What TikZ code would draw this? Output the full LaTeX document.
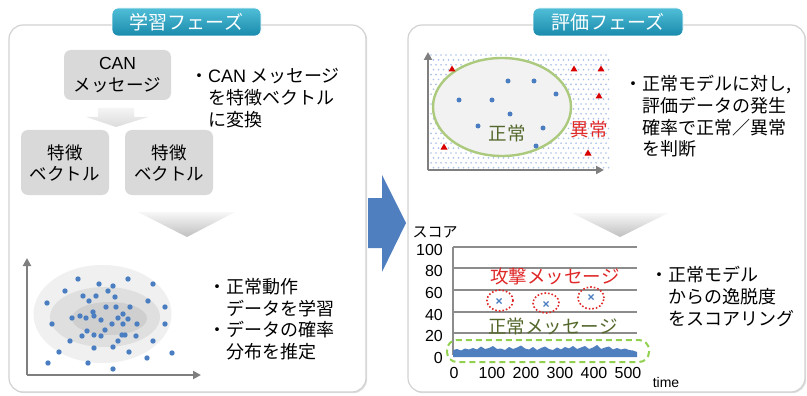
\documentclass[tikz,border=0pt]{standalone}
\usepackage{fontspec}
\setmainfont{Noto Sans CJK JP}
\newfontfamily\lat{Liberation Sans}
\usetikzlibrary{arrows.meta,shadows}
\definecolor{ptblue}{RGB}{74,126,193}
\definecolor{arrblue}{RGB}{79,127,191}
\definecolor{tabtop}{RGB}{80,190,215}
\definecolor{tabbot}{RGB}{25,138,172}
\definecolor{olive}{RGB}{84,104,44}
\definecolor{redtxt}{RGB}{224,40,40}
\definecolor{ellgreen}{RGB}{172,202,125}
\definecolor{dashgreen}{RGB}{146,208,80}
\definecolor{patblue}{RGB}{172,194,232}
\definecolor{gridgray}{RGB}{140,140,140}
\definecolor{axgray}{RGB}{127,127,127}
\begin{document}
\begin{tikzpicture}[x=1pt,y=-1pt,
  panel/.style={draw=gray!35,line width=1.2pt,fill=white,rounded corners=14pt,
    drop shadow={shadow xshift=1.2pt,shadow yshift=-1.2pt,opacity=0.25}},
  tab/.style={rounded corners=6pt,top color=tabtop,bottom color=tabbot,draw=white,line width=0.8pt},
  tabtext/.style={text=white,font=\fontsize{19}{22}\selectfont,inner sep=0pt},
  graybox/.style={fill=gray!30,rounded corners=7pt,inner sep=0pt},
  boxtext/.style={font=\fontsize{17.5}{21.5}\selectfont,align=center,inner sep=0pt},
  bultext/.style={font=\fontsize{18}{21.8}\selectfont,align=left,anchor=north west,inner sep=0pt},
  axis/.style={draw=axgray,line width=2.4pt,-{Triangle[length=8pt,width=8pt]}},
  pt/.style={fill=ptblue},
  tri/.style={fill=red!85!black},
  numlab/.style={font=\lat\fontsize{16}{18}\selectfont,inner sep=0pt},
  bigtxt/.style={font=\fontsize{18.5}{20}\selectfont,inner sep=0pt}
]
\useasboundingbox (0,0) rectangle (807,396);

% panels
\path[panel] (9,25) rectangle (366,392);
\path[panel] (408,25) rectangle (805,392);

% middle arrow
\fill[arrblue] (368,198) -- (382,198) -- (382,175) -- (406,223) -- (382,272) -- (382,248) -- (368,248) -- cycle;

% tabs
\path[tab] (112,8) rectangle (261,36);
\node[tabtext] (t1) at (186.5,22) {学習フェーズ};
\path[tab] (533,8) rectangle (683,36);
\node[tabtext] (t2) at (608,22) {評価フェーズ};

% ---------- left panel ----------
\path[graybox] (64,50) rectangle (171,100);
\node[boxtext] (can) at (117.5,75) {{\lat CAN}\\メッセージ};
\shade[top color=gray!8,bottom color=gray!28] (98,108) -- (134,108) -- (134,117) -- (148,117) -- (116,127) -- (86,117) -- (98,117) -- cycle;
\path[graybox] (21,130) rectangle (109,195);
\node[boxtext] (fv1) at (65,163) {特徴\\ベクトル};
\path[graybox] (125,130) rectangle (213,195);
\node[boxtext] (fv2) at (169,163) {特徴\\ベクトル};
\node[bultext] (bA) at (208,68) {\llap{・}{\lat CAN} メッセージ\\を特徴ベクトル\\に変換};

\shade[top color=gray!6,bottom color=gray!50] (138,212) -- (235,212) -- (187,237) -- cycle;

% scatter left
\fill[gray!12] (102.5,314) ellipse [x radius=69pt,y radius=49pt];
\fill[gray!25] (105,317) ellipse [x radius=55pt,y radius=30pt];
\fill[gray!38] (109.5,318.5) ellipse [x radius=37.5pt,y radius=16.5pt];
\foreach \p in {(78,279),(99,284),(113,286),(128,279),(153,284),(65,291),(108,291),(83,296),(96,296),(115,297),(89,301),(47,303),(148,301),(165,307),(106,307),(116,307),(130,307),(93,312),(80,316),(94,316),(123,314),(72,318),(86,318),(101,320),(118,318),(128,319),(52,324),(112,324),(123,324),(137,324),(165,324),(105,330),(87,331),(82,336),(94,335),(101,336),(122,335),(125,335),(136,336),(118,341),(70,341),(153,341),(94,348),(113,347),(59,352),(129,352),(172,353),(147,358),(48,363),(88,363),(113,369)}
  \fill[pt] \p circle (2.7);
\coordinate (oL) at (27,375);
\coordinate (yL) at (27,258);
\coordinate (xL) at (201,375);
\draw[axis] (oL) -- (yL);
\draw[axis] (oL) -- (xL);
\node[bultext] (bB) at (226,278) {\llap{・}正常動作\\データを学習\\\llap{・}データの確率\\分布を推定};

% ---------- right panel ----------
\foreach \j in {0,...,23} {
  \foreach \i in {0,...,35} {
    \pgfmathsetmacro\xx{431+5*\i+2.5*mod(\j,2)}
    \fill[patblue] (\xx,55+4.9*\j) circle (0.95);
  }
}
\filldraw[fill=gray!10,draw=ellgreen,line width=2.4pt] (502,107) ellipse [x radius=69pt,y radius=49pt];
\foreach \p in {(508,81),(534,81),(556,94),(459,100),(492,100),(510,114),(478,126),(543,128),(536,146)}
  \fill[pt] \p circle (2.5);
\foreach \p in {(452,69),(574,69),(601,69),(599,96),(444,147),(588,153)}
  \fill[tri] \p ++(0,-3.5) -- ++(3.5,6) -- ++(-7,0) -- cycle;
\coordinate (oR) at (428,170);
\coordinate (yR) at (428,52);
\coordinate (xR) at (604,170);
\draw[axis] (oR) -- (yR);
\draw[axis] (oR) -- (xR);
\node[bigtxt,text=olive] (norm) at (507,133) {正常};
\node[bigtxt,text=redtxt] (abn) at (589,129) {異常};
\node[bultext] (bC) at (642,75) {\llap{・}正常モデルに対し,\\評価データの発生\\確率で正常／異常\\を判断};

\shade[top color=gray!6,bottom color=gray!50] (572,213) -- (668,213) -- (620,237) -- cycle;

% chart
\node[font=\fontsize{15}{17}\selectfont,inner sep=0pt] (sc) at (435,232) {スコア};
\foreach \v/\yy in {100/247,80/268,60/290,40/312,20/333,0/355} {
  \draw[gridgray,line width=1.3pt] (453,\yy) -- (637,\yy);
  \node[numlab,anchor=east] (yl\v) at (443,\yy+3) {\v};
}
\draw[gridgray,line width=1.3pt] (453,247) -- (453,355);
\foreach \v/\xx in {0/454,100/492,200/526,300/560,400/594,500/628}
  \node[numlab] (xl\v) at (\xx,373) {\v};
\node[font=\lat\fontsize{14}{16}\selectfont,inner sep=0pt] (tm) at (666,382) {time};
\fill[arrblue] (453,357) -- (453,350) -- (457,349) -- (461,350.5) -- (465,348.5) -- (469,349.5) -- (473,348) -- (477,349.5) -- (481,346.5) -- (485,349) -- (489,348) -- (493,346) -- (497,349) -- (501,348.5) -- (505,350) -- (509,347) -- (513,349) -- (517,347.5) -- (521,345.5) -- (525,348.5) -- (529,349.5) -- (533,347) -- (537,350) -- (541,348) -- (545,346.5) -- (549,349) -- (553,350) -- (557,347.5) -- (561,349.5) -- (565,347) -- (569,348.5) -- (573,346) -- (577,349) -- (581,347.5) -- (585,346) -- (589,349) -- (593,347.5) -- (597,345) -- (601,349) -- (605,347.5) -- (609,346.5) -- (613,349.5) -- (617,348) -- (621,349.5) -- (625,348.5) -- (629,350) -- (633,350.5) -- (637,352) -- (637,357) -- cycle;
\draw[dashgreen,line width=2pt,dash pattern=on 6pt off 4pt,rounded corners=10pt] (447,340) rectangle (649,362);
\node[bigtxt,text=redtxt] (atk) at (555,276) {攻撃メッセージ};
\node[bigtxt,text=olive] (nmsg) at (553,326) {正常メッセージ};
\foreach \c/\rx/\ry in {{(500,300.5)}/13/10.5,{(546,303)}/13/10,{(591,298)}/13/11}
  \draw[redtxt,line width=1.6pt,dotted] \c ellipse [x radius=\rx pt,y radius=\ry pt];
\foreach \c in {(499,301),(546,304),(591,297)} {
  \draw[ptblue,line width=1.3pt] \c ++(-2.5,-2.5) -- ++(5,5);
  \draw[ptblue,line width=1.3pt] \c ++(-2.5,2.5) -- ++(5,-5);
}
\node[bultext] (bD) at (668,266) {\llap{・}正常モデル\\からの逸脱度\\をスコアリング};
\end{tikzpicture}
\end{document}
